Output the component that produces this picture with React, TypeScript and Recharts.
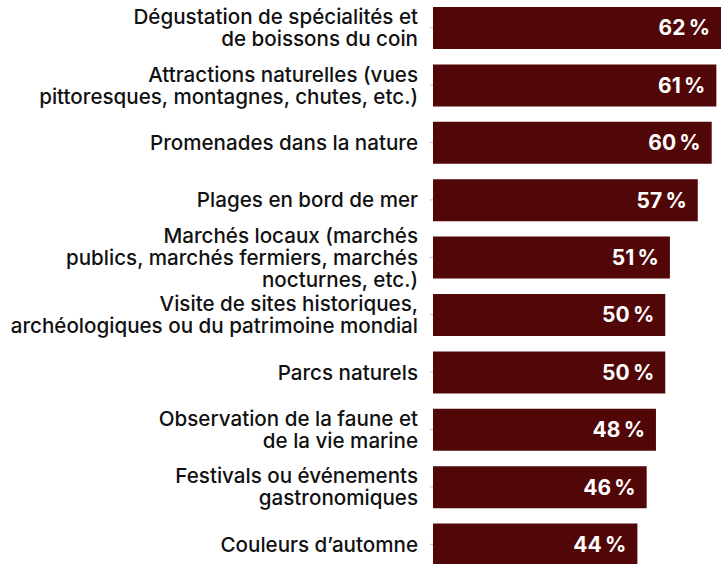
import React from 'react'
import { BarChart, Bar, XAxis, YAxis, LabelList } from 'recharts'

const categories = [
  'Dégustation de spécialités et\nde boissons du coin',
  'Attractions naturelles (vues\npittoresques, montagnes, chutes, etc.)',
  'Promenades dans la nature',
  'Plages en bord de mer',
  'Marchés locaux (marchés\npublics, marchés fermiers, marchés\nnocturnes, etc.)',
  'Visite de sites historiques,\narchéologiques ou du patrimoine mondial',
  'Parcs naturels',
  'Observation de la faune et\nde la vie marine',
  'Festivals ou événements\ngastronomiques',
  'Couleurs d’automne',
]

const shares = [62, 61, 60, 57, 51, 50, 50, 48, 46, 44]

const data = categories.map((name, i) => ({ name, value: shares[i] }))

const FONT = 'Inter, "Liberation Sans", Arial, sans-serif'
const BAR_COLOR = '#510707'

function CategoryTick(props: any) {
  const { x, y, payload } = props
  const lines: string[] = String(payload.value).split('\n')
  const lineHeight = 22
  return (
    <text x={x} y={y} textAnchor="end" fill="#111" fontFamily={FONT} fontSize={20.6} fontWeight={500}>
      {lines.map((line, i) => (
        <tspan key={i} x={x} y={y + (i - (lines.length - 1) / 2) * lineHeight} dy="0.36em">
          {line}
        </tspan>
      ))}
    </text>
  )
}

export default function App() {
  return (
    <div style={{ position: 'absolute', left: 0, top: 0, width: 727, height: 564, overflow: 'hidden', background: '#fff' }}>
      <div style={{ marginTop: -1 }}>
        <BarChart
          width={727}
          height={574}
          data={data}
          layout="vertical"
          margin={{ top: 0, right: 6, bottom: 0, left: 0 }}
        >
          <XAxis type="number" domain={[0, 62]} hide />
          <YAxis
            type="category"
            dataKey="name"
            width={433}
            axisLine={false}
            tickLine={{ stroke: '#bbb' }}
            tickSize={3}
            tickMargin={12}
            interval={0}
            tick={<CategoryTick />}
          />
          <Bar dataKey="value" fill={BAR_COLOR} barSize={42} isAnimationActive={false}>
            <LabelList
              dataKey="value"
              position="insideRight"
              offset={11}
              formatter={(v: any) => `${v}\u202f%`}
              fill="#fff"
              fontFamily={FONT}
              fontSize={21}
              fontWeight={700}
              letterSpacing={-0.5}
            />
          </Bar>
        </BarChart>
      </div>
    </div>
  )
}
